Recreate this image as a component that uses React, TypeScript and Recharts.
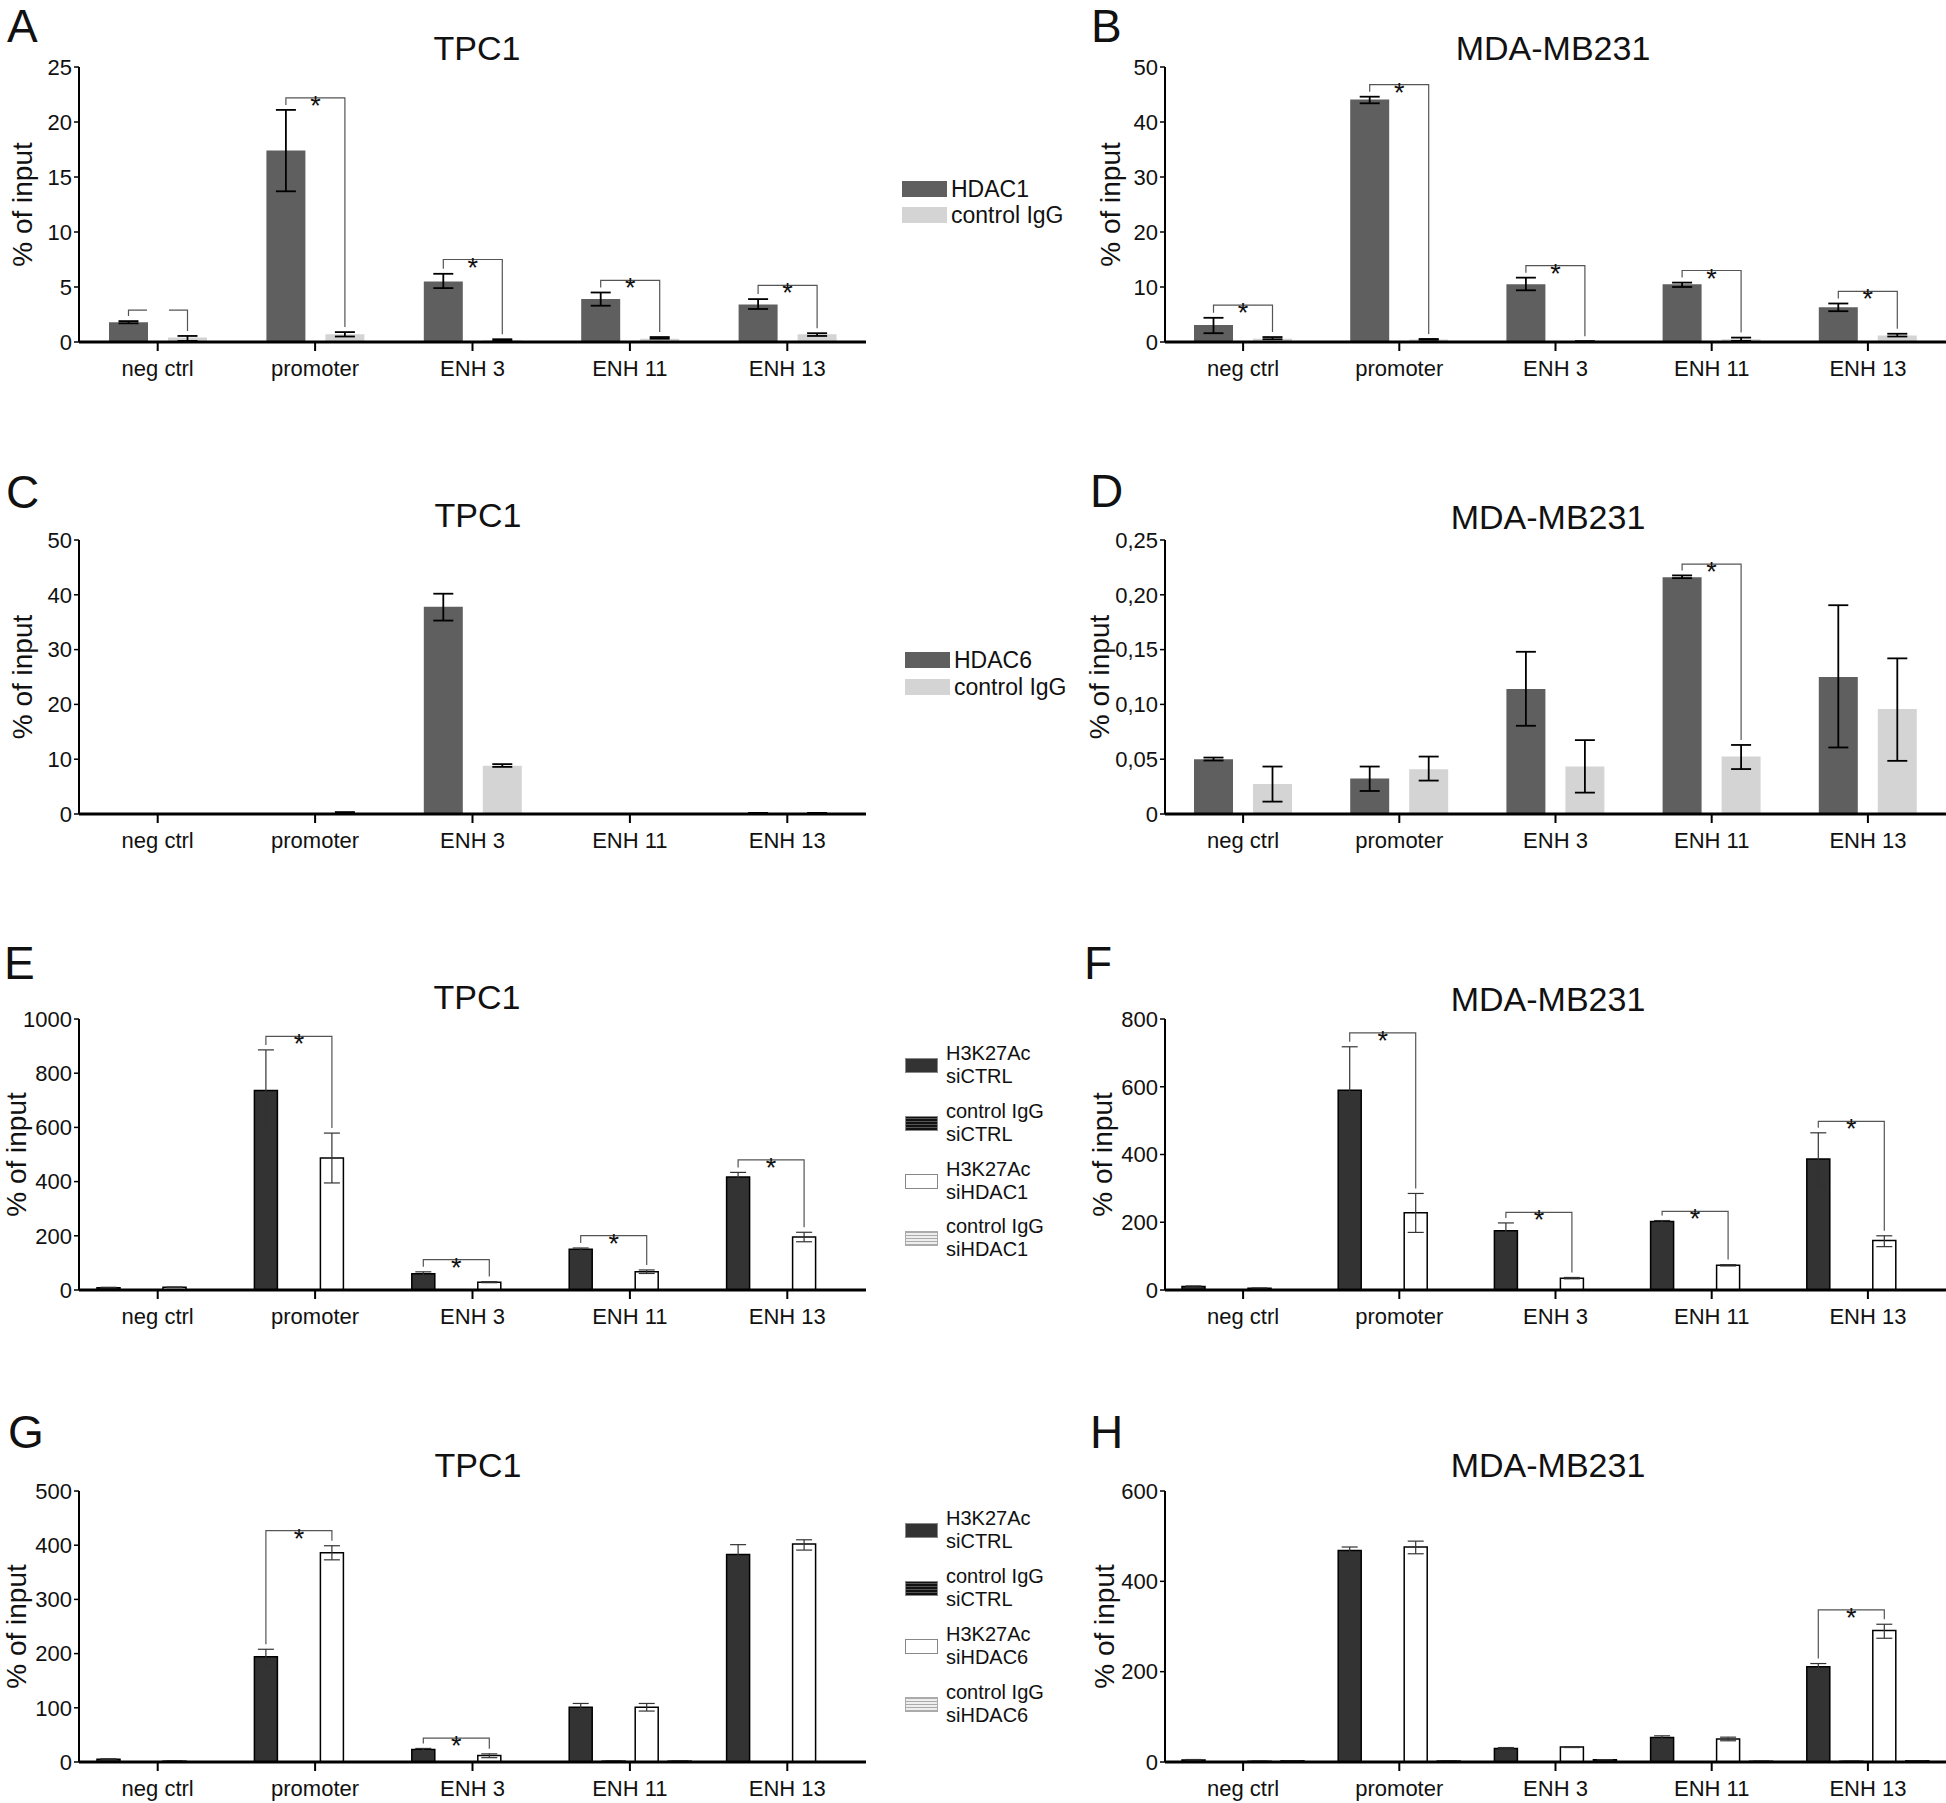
import React from "react";
import { BarChart, Bar, XAxis, YAxis, ErrorBar, LabelList } from "recharts";

const categories = ["neg ctrl", "promoter", "ENH 3", "ENH 11", "ENH 13"];

// A: HDAC1 ChIP in TPC1
const hdac1Tpc1 = [1.8, 17.4, 5.5, 3.9, 3.4];
const hdac1Tpc1Low = [1.7, 13.7, 4.9, 3.3, 3.0];
const hdac1Tpc1High = [1.9, 21.1, 6.2, 4.5, 3.9];
const iggA = [0.4, 0.7, 0.15, 0.3, 0.7];
const iggALow = [0.1, 0.5, 0.1, 0.3, 0.55];
const iggAHigh = [0.55, 0.9, 0.25, 0.45, 0.8];
const bracketA = [2.9, 22.2, 7.5, 5.6, 5.15];
const starsA = ["", "*", "*", "*", "*"];

// B: HDAC1 ChIP in MDA-MB231
const hdac1Mda = [3.1, 44.1, 10.5, 10.5, 6.3];
const hdac1MdaLow = [1.6, 43.4, 9.4, 10.0, 5.6];
const hdac1MdaHigh = [4.4, 44.6, 11.7, 10.8, 7.0];
const iggB = [0.6, 0.45, 0.1, 0.5, 1.2];
const iggBLow = [0.5, 0.4, 0.05, 0.2, 1.0];
const iggBHigh = [0.9, 0.55, 0.15, 0.8, 1.5];
const bracketB = [6.7, 46.8, 13.9, 13.0, 9.2];
const starsB = ["*", "*", "*", "*", "*"];

// C: HDAC6 ChIP in TPC1
const hdac6Tpc1 = [0, 0, 37.8, 0, 0.1];
const hdac6Tpc1Low = [0, 0, 35.3, 0, 0];
const hdac6Tpc1High = [0, 0, 40.2, 0, 0.2];
const iggC = [0, 0.2, 8.8, 0, 0.1];
const iggCLow = [0, 0.1, 8.6, 0, 0];
const iggCHigh = [0, 0.35, 9.1, 0, 0.2];
const bracketC = [null, null, 42.7, null, null];
const starsC = ["", "", "*", "", ""];

// D: HDAC6 ChIP in MDA-MB231
const hdac6Mda = [0.05, 0.0325, 0.114, 0.216, 0.125];
const hdac6MdaLow = [0.0488, 0.021, 0.0805, 0.2152, 0.0607];
const hdac6MdaHigh = [0.0515, 0.0433, 0.148, 0.2177, 0.1905];
const iggD = [0.0274, 0.0409, 0.0433, 0.0524, 0.0957];
const iggDLow = [0.0113, 0.0305, 0.0195, 0.041, 0.0485];
const iggDHigh = [0.0433, 0.0524, 0.0674, 0.063, 0.142];
const bracketD = [null, null, null, 0.228, null];
const starsD = ["", "", "", "*", ""];

// E: H3K27Ac, siHDAC1, TPC1
const h3CtrlE = [8.6, 736, 60, 150, 417];
const h3CtrlELow = [7, 585, 52, 145, 405];
const h3CtrlEHigh = [10, 886, 67, 155, 434];
const iggCtrlE = [0, 0, 0, 0, 0];
const h3SiE = [10, 487, 29, 67, 196];
const h3SiELow = [9, 395, 27, 61, 178];
const h3SiEHigh = [11, 579, 31, 74, 213];
const iggSiE = [0, 0, 0, 0, 0];
const bracketE = [null, 936, 112, 201, 480];
const starsE = ["", "*", "*", "*", "*"];

// F: H3K27Ac, siHDAC1, MDA-MB231
const h3CtrlF = [10, 590, 175, 202, 387];
const h3CtrlFLow = [8, 462, 149, 199, 308];
const h3CtrlFHigh = [12, 718, 198, 205, 464];
const iggCtrlF = [0, 0, 0, 0, 0];
const h3SiF = [5, 228, 35, 73, 146];
const h3SiFLow = [4, 170, 33, 71, 128];
const h3SiFHigh = [6, 285, 37, 75, 160];
const iggSiF = [0, 0, 0, 0, 0];
const bracketF = [null, 759, 229, 232, 498];
const starsF = ["", "*", "*", "*", "*"];

// G: H3K27Ac, siHDAC6, TPC1
const h3CtrlG = [5, 194, 23, 101, 383];
const h3CtrlGLow = [4, 177, 21, 94, 364];
const h3CtrlGHigh = [6, 208, 25, 108, 401];
const iggCtrlG = [0, 0, 0, 1.5, 0];
const h3SiG = [1.5, 386, 12, 101, 402];
const h3SiGLow = [1, 373, 8, 94, 391];
const h3SiGHigh = [2, 399, 15, 108, 410];
const iggSiG = [0, 0, 0, 1.5, 0];
const bracketG = [null, 427, 44, null, null];
const starsG = ["", "*", "*", "", ""];

// H: H3K27Ac, siHDAC6, MDA-MB231
const h3CtrlH = [4.5, 468, 30, 54, 211];
const h3CtrlHLow = [3.5, 461, 29, 50, 202];
const h3CtrlHHigh = [5.5, 476, 32, 58, 218];
const iggCtrlH = [0, 0, 0, 0, 1.5];
const h3SiH = [1.5, 476, 33, 51, 291];
const h3SiHLow = [1, 461, 32, 47, 274];
const h3SiHHigh = [2, 489, 34, 55, 305];
const iggSiH = [2.5, 2, 5, 1.5, 2.5];
const bracketH = [null, null, null, null, 337];
const starsH = ["", "", "", "", "*"];

const ticksA = [0, 5, 10, 15, 20, 25];
const ticksB = [0, 10, 20, 30, 40, 50];
const ticksD = [0, 0.05, 0.1, 0.15, 0.2, 0.25];
const ticksE = [0, 200, 400, 600, 800, 1000];
const ticksF = [0, 200, 400, 600, 800];
const ticksG = [0, 100, 200, 300, 400, 500];
const ticksH = [0, 200, 400, 600];

const legendHdac1 = ["HDAC1", "control IgG"];
const legendHdac6 = ["HDAC6", "control IgG"];
const legendSiHdac1 = [["H3K27Ac", "siCTRL"], ["control IgG", "siCTRL"], ["H3K27Ac", "siHDAC1"], ["control IgG", "siHDAC1"]];
const legendSiHdac6 = [["H3K27Ac", "siCTRL"], ["control IgG", "siCTRL"], ["H3K27Ac", "siHDAC6"], ["control IgG", "siHDAC6"]];

const DARK = "#5f5f5f";
const LIGHT = "#d4d4d4";
const FONT = "'Liberation Sans', Arial, sans-serif";

type Series = { values: number[]; low: number[]; high: number[]; fill: string; stroke?: string };

function buildRows(series: Series[]) {
  return categories.map((cat, i) => {
    const row: any = { cat };
    series.forEach((s, k) => {
      row[`v${k}`] = s.values[i];
      row[`e${k}`] = [Math.max(0, s.values[i] - s.low[i]), Math.max(0, s.high[i] - s.values[i])];
    });
    return row;
  });
}

// significance bracket drawn from the first bar's geometry to the compared bar
function bracketContent(
  brackets: (number | null)[],
  stars: string[],
  high0: number[],
  highK: number[],
  k: number,
  gap: number
) {
  return (props: any) => {
    const i = props.index;
    const b = brackets[i];
    const value = Number(props.value);
    if (b == null || !value) return null;
    const vb = props.viewBox || props;
    const x = Number(vb.x);
    const y = Number(vb.y);
    const w = Number(vb.width);
    const h = Number(vb.height);
    const base = Math.max(y, y + h);
    const s = Math.abs(h) / value;
    const py = (v: number) => base - v * s;
    const c0 = x + w / 2;
    const c1 = c0 + k * (w + gap);
    const yb = py(b);
    const yl = Math.max(yb, py(high0[i]) - 5);
    const yr = py(highK[i]) - 5;
    const mid = (c0 + c1) / 2;
    const d = stars[i]
      ? `M${c0},${yl}V${yb}H${c1}V${yr}`
      : `M${c0},${yl}V${yb}H${mid - 11}M${mid + 11},${yb}H${c1}V${yr}`;
    return (
      <g key={`br-${i}`}>
        <path d={d} fill="none" stroke="#555" strokeWidth={1.2} />
        {stars[i] ? (
          <text x={mid} y={yb + 17} textAnchor="middle" fontSize={27} fill="#111" fontFamily={FONT}>
            {stars[i]}
          </text>
        ) : null}
      </g>
    );
  };
}

type PanelProps = {
  left: number;
  top: number;
  yAxisWidth: number;
  plotH: number;
  series: Series[];
  domain: [number, number];
  ticks: number[];
  tickFmt?: (v: number) => string;
  barSize: number;
  barGap: number;
  capW: number;
  errW: number;
  errColor: string;
  brackets: (number | null)[];
  stars: string[];
  compare: number;
  labelX: number;
};

function Panel(p: PanelProps) {
  const rows = buildRows(p.series);
  const height = 20 + p.plotH + 48;
  return (
    <div style={{ position: "absolute", left: p.left, top: p.top }}>
      <BarChart
        width={866}
        height={height}
        data={rows}
        margin={{ top: 20, right: 0, bottom: 0, left: 0 }}
        barSize={p.barSize}
        barGap={p.barGap}
      >
        <XAxis
          dataKey="cat"
          interval={0}
          height={48}
          tickSize={9}
          tickMargin={9}
          axisLine={{ stroke: "#000", strokeWidth: 3 }}
          tickLine={{ stroke: "#000", strokeWidth: 2 }}
          tick={{ fontSize: 22, fill: "#111", fontFamily: FONT }}
        />
        <YAxis
          width={p.yAxisWidth}
          domain={p.domain}
          ticks={p.ticks}
          interval={0}
          allowDataOverflow
          tickSize={5}
          tickMargin={2}
          tickFormatter={p.tickFmt}
          axisLine={{ stroke: "#000", strokeWidth: 2 }}
          tickLine={{ stroke: "#000", strokeWidth: 1.5 }}
          tick={{ fontSize: 22, fill: "#111", fontFamily: FONT }}
          label={{
            content: (lp: any) => {
              const vb = lp.viewBox || { y: 20, height: p.plotH };
              const cx = p.labelX;
              const cy = vb.y + vb.height / 2;
              return (
                <text
                  x={cx}
                  y={cy}
                  transform={`rotate(-90 ${cx} ${cy})`}
                  textAnchor="middle"
                  dominantBaseline="central"
                  fontSize={28}
                  fill="#111"
                  fontFamily={FONT}
                >
                  % of input
                </text>
              );
            },
          }}
        />
        {p.series.map((s, k) => (
          <Bar
            key={`s${k}`}
            dataKey={`v${k}`}
            fill={s.fill}
            stroke={s.stroke ?? "none"}
            strokeWidth={s.stroke ? 1.5 : 0}
            isAnimationActive={false}
          >
            <ErrorBar
              dataKey={`e${k}`}
              width={p.capW}
              strokeWidth={p.errW}
              stroke={p.errColor}
              direction="y"
              isAnimationActive={false}
            />
            {k === 0 ? (
              <LabelList
                dataKey="v0"
                content={bracketContent(
                  p.brackets,
                  p.stars,
                  p.series[0].high,
                  p.series[p.compare].high,
                  p.compare,
                  p.barGap
                )}
              />
            ) : null}
          </Bar>
        ))}
      </BarChart>
    </div>
  );
}

function Title({ x, y, text }: { x: number; y: number; text: string }) {
  return (
    <div
      style={{
        position: "absolute",
        left: x,
        top: y,
        transform: "translate(-50%, -50%)",
        fontSize: 34,
        whiteSpace: "nowrap",
      }}
    >
      {text}
    </div>
  );
}

function Letter({ x, y, text }: { x: number; y: number; text: string }) {
  return (
    <div style={{ position: "absolute", left: x, top: y, transform: "translateY(-50%)", fontSize: 46, lineHeight: 1 }}>
      {text}
    </div>
  );
}

function SimpleLegend({ x, rows, labels }: { x: number; rows: number[]; labels: string[] }) {
  const fills = [DARK, LIGHT];
  return (
    <>
      {labels.map((l, i) => (
        <div
          key={l + i}
          style={{ position: "absolute", left: x, top: rows[i] - 15, height: 30, display: "flex", alignItems: "center" }}
        >
          <div style={{ width: 45, height: 16, background: fills[i], marginRight: 4 }} />
          <span style={{ fontSize: 23 }}>{l}</span>
        </div>
      ))}
    </>
  );
}

const swatchStyles: React.CSSProperties[] = [
  { background: "#333", border: "1px solid #888" },
  { background: "repeating-linear-gradient(0deg, #111 0px, #111 2px, #555 2px, #555 3px)", border: "1px solid #888" },
  { background: "#fff", border: "1px solid #888" },
  { background: "repeating-linear-gradient(0deg, #aaa 0px, #aaa 1px, #eee 1px, #eee 3px)", border: "1px solid #aaa" },
];

function HistoneLegend({ x, rows, labels }: { x: number; rows: number[]; labels: string[][] }) {
  return (
    <>
      {labels.map((l, i) => (
        <div
          key={l.join("-") + i}
          style={{ position: "absolute", left: x, top: rows[i] - 24, height: 48, display: "flex", alignItems: "center" }}
        >
          <div style={{ width: 31, height: 13, marginRight: 8, ...swatchStyles[i] }} />
          <div style={{ fontSize: 20, lineHeight: "23px" }}>
            <div>{l[0]}</div>
            <div>{l[1]}</div>
          </div>
        </div>
      ))}
    </>
  );
}

const twoBar = { barSize: 39, barGap: 20, capW: 10, errW: 1.8, errColor: "#000", compare: 1 };
const fourBar = { barSize: 23, barGap: 10, capW: 8, errW: 1.2, errColor: "#333", compare: 2 };

function histSeries(a: number[], aL: number[], aH: number[], b: number[], c: number[], cL: number[], cH: number[], d: number[]): Series[] {
  return [
    { values: a, low: aL, high: aH, fill: "#333", stroke: "#000" },
    { values: b, low: b, high: b, fill: "#222", stroke: "#000" },
    { values: c, low: cL, high: cH, fill: "#fff", stroke: "#000" },
    { values: d, low: d, high: d, fill: "#222", stroke: "#000" },
  ];
}

const commaFmt = (v: number) => (v === 0 ? "0" : v.toFixed(2).replace(".", ","));

export default function App() {
  return (
    <div
      style={{
        position: "absolute",
        left: 0,
        top: 0,
        width: 1946,
        height: 1803,
        overflow: "hidden",
        background: "#fff",
        fontFamily: FONT,
        color: "#111",
      }}
    >
      <Letter x={7} y={26} text="A" />
      <Letter x={1091} y={26} text="B" />
      <Letter x={6} y={492} text="C" />
      <Letter x={1090} y={491} text="D" />
      <Letter x={4} y={963} text="E" />
      <Letter x={1084} y={963} text="F" />
      <Letter x={8} y={1432} text="G" />
      <Letter x={1090} y={1432} text="H" />

      <Title x={477} y={48} text="TPC1" />
      <Title x={1553} y={48} text="MDA-MB231" />
      <Title x={478} y={515} text="TPC1" />
      <Title x={1548} y={517} text="MDA-MB231" />
      <Title x={477} y={997} text="TPC1" />
      <Title x={1548} y={999} text="MDA-MB231" />
      <Title x={478} y={1465} text="TPC1" />
      <Title x={1548} y={1465} text="MDA-MB231" />

      <Panel
        left={0}
        top={47}
        yAxisWidth={79}
        plotH={275}
        series={[
          { values: hdac1Tpc1, low: hdac1Tpc1Low, high: hdac1Tpc1High, fill: DARK },
          { values: iggA, low: iggALow, high: iggAHigh, fill: LIGHT },
        ]}
        domain={[0, 25]}
        ticks={ticksA}
        brackets={bracketA}
        stars={starsA}
        labelX={22}
        {...twoBar}
      />
      <Panel
        left={1080}
        top={47}
        yAxisWidth={85}
        plotH={275}
        series={[
          { values: hdac1Mda, low: hdac1MdaLow, high: hdac1MdaHigh, fill: DARK },
          { values: iggB, low: iggBLow, high: iggBHigh, fill: LIGHT },
        ]}
        domain={[0, 50]}
        ticks={ticksB}
        brackets={bracketB}
        stars={starsB}
        labelX={30}
        {...twoBar}
      />
      <Panel
        left={0}
        top={520}
        yAxisWidth={79}
        plotH={274}
        series={[
          { values: hdac6Tpc1, low: hdac6Tpc1Low, high: hdac6Tpc1High, fill: DARK },
          { values: iggC, low: iggCLow, high: iggCHigh, fill: LIGHT },
        ]}
        domain={[0, 50]}
        ticks={ticksB}
        brackets={bracketC}
        stars={starsC}
        labelX={22}
        {...twoBar}
      />
      <Panel
        left={1080}
        top={520}
        yAxisWidth={85}
        plotH={274}
        series={[
          { values: hdac6Mda, low: hdac6MdaLow, high: hdac6MdaHigh, fill: DARK },
          { values: iggD, low: iggDLow, high: iggDHigh, fill: LIGHT },
        ]}
        domain={[0, 0.25]}
        ticks={ticksD}
        tickFmt={commaFmt}
        brackets={bracketD}
        stars={starsD}
        labelX={19}
        {...twoBar}
      />
      <Panel
        left={0}
        top={999}
        yAxisWidth={79}
        plotH={271}
        series={histSeries(h3CtrlE, h3CtrlELow, h3CtrlEHigh, iggCtrlE, h3SiE, h3SiELow, h3SiEHigh, iggSiE)}
        domain={[0, 1000]}
        ticks={ticksE}
        brackets={bracketE}
        stars={starsE}
        labelX={16}
        {...fourBar}
      />
      <Panel
        left={1080}
        top={999}
        yAxisWidth={85}
        plotH={271}
        series={histSeries(h3CtrlF, h3CtrlFLow, h3CtrlFHigh, iggCtrlF, h3SiF, h3SiFLow, h3SiFHigh, iggSiF)}
        domain={[0, 800]}
        ticks={ticksF}
        brackets={bracketF}
        stars={starsF}
        labelX={22}
        {...fourBar}
      />
      <Panel
        left={0}
        top={1471}
        yAxisWidth={79}
        plotH={271}
        series={histSeries(h3CtrlG, h3CtrlGLow, h3CtrlGHigh, iggCtrlG, h3SiG, h3SiGLow, h3SiGHigh, iggSiG)}
        domain={[0, 500]}
        ticks={ticksG}
        brackets={bracketG}
        stars={starsG}
        labelX={16}
        {...fourBar}
      />
      <Panel
        left={1080}
        top={1471}
        yAxisWidth={85}
        plotH={271}
        series={histSeries(h3CtrlH, h3CtrlHLow, h3CtrlHHigh, iggCtrlH, h3SiH, h3SiHLow, h3SiHHigh, iggSiH)}
        domain={[0, 600]}
        ticks={ticksH}
        brackets={bracketH}
        stars={starsH}
        labelX={24}
        {...fourBar}
      />

      <SimpleLegend x={902} rows={[189, 215]} labels={legendHdac1} />
      <SimpleLegend x={905} rows={[660, 687]} labels={legendHdac6} />
      <HistoneLegend x={905} rows={[1065, 1123, 1181, 1238]} labels={legendSiHdac1} />
      <HistoneLegend x={905} rows={[1530, 1588, 1646, 1704]} labels={legendSiHdac6} />
    </div>
  );
}
